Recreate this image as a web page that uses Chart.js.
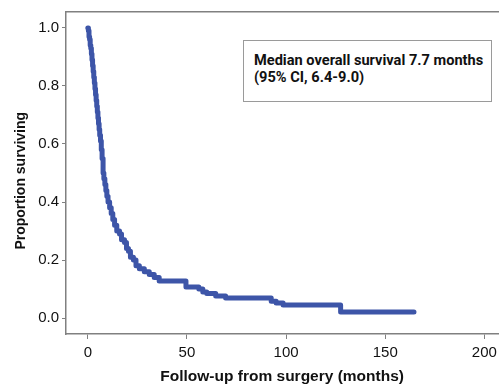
<!DOCTYPE html>
<html>
<head>
<meta charset="utf-8">
<script src="https://cdn.jsdelivr.net/npm/chart.js@4.4.1/dist/chart.umd.min.js"></script>
<style>
  html, body { margin: 0; padding: 0; background: #fff; overflow: hidden; }
  #wrap { position: relative; width: 502px; height: 384px; }
  #note {
    position: absolute; left: 243px; top: 40px; width: 247px; height: 60px;
    border: 1.5px solid #9a9a9a; background: #fff; box-sizing: content-box;
    font-family: Roboto, "Open Sans", sans-serif; font-weight: 700; font-size: 14.6px;
    line-height: 17px; color: #111; padding: 0;
  }
  #note div { position: absolute; left: 10px; white-space: nowrap; }
</style>
</head>
<body>
<div id="wrap">
  <canvas id="c" width="502" height="384"></canvas>
  <div id="note"><div style="top:11px">Median overall survival 7.7 months</div><div style="top:28px">(95% CI, 6.4-9.0)</div></div>
</div>
<script>
// Kaplan-Meier estimate (time in months, proportion surviving)
const months = [0, 0.3, 0.6, 0.9, 1.2, 1.5, 1.8, 2.1, 2.4, 2.7, 3.0, 3.3, 3.6, 3.9, 4.2, 4.5, 4.8, 5.1, 5.4, 5.7, 6.0, 6.4, 6.8, 7.2, 7.7, 8.1, 8.6, 9.1, 9.6, 10.2, 11.0, 11.8, 12.6, 13.5, 14.6, 16.0, 17.0, 18.5, 19.5, 20.5, 21.5, 23.0, 24.3, 26.0, 28.5, 31.0, 33.5, 36.0, 49.5, 56.0, 58.0, 60.0, 64.5, 69.5, 92.5, 95.0, 98.5, 127.5, 164.5];
const survival = [1.0, 0.99, 0.97, 0.96, 0.94, 0.93, 0.91, 0.89, 0.87, 0.85, 0.83, 0.81, 0.79, 0.77, 0.75, 0.73, 0.71, 0.69, 0.67, 0.65, 0.63, 0.61, 0.58, 0.55, 0.50, 0.48, 0.46, 0.44, 0.42, 0.40, 0.38, 0.36, 0.34, 0.32, 0.30, 0.29, 0.27, 0.26, 0.24, 0.23, 0.21, 0.20, 0.18, 0.17, 0.16, 0.15, 0.14, 0.128, 0.107, 0.10, 0.09, 0.085, 0.076, 0.069, 0.058, 0.052, 0.045, 0.021, 0.021];
const xTicks = [0, 50, 100, 150, 200];
const yTicks = [0.0, 0.2, 0.4, 0.6, 0.8, 1.0];
const xTitle = 'Follow-up from surgery (months)';
const yTitle = 'Proportion surviving';

const axisColor = '#808080';
const points = months.map((m, i) => ({ x: m, y: survival[i] }));

new Chart(document.getElementById('c'), {
  type: 'line',
  data: {
    datasets: [{
      data: points,
      stepped: true,
      borderColor: '#3d55a8',
      borderWidth: 5,
      borderCapStyle: 'round',
      borderJoinStyle: 'round',
      pointRadius: 0,
      fill: false
    }]
  },
  options: {
    responsive: false,
    animation: false,
    devicePixelRatio: 1,
    layout: { padding: 0 },
    plugins: { legend: { display: false }, tooltip: { enabled: false } },
    scales: {
      x: {
        type: 'linear', position: 'bottom', min: -11, max: 207,
        afterBuildTicks: s => { s.ticks = xTicks.map(v => ({ value: v })); },
        afterFit: s => { s.height = 50; },
        grid: { drawOnChartArea: false, drawTicks: true, tickLength: 5, color: axisColor, lineWidth: 1 },
        border: { display: true, color: axisColor, width: 1.5 },
        ticks: { color: '#111', font: { family: 'Liberation Sans', size: 15 }, padding: 5, maxRotation: 0 },
        title: { display: true, text: xTitle, color: '#111', font: { family: 'Liberation Sans', size: 15.5, weight: 'bold', lineHeight: 1 }, padding: { top: 0, bottom: 0 } }
      },
      xTop: {
        type: 'linear', position: 'top', min: -11, max: 207,
        afterFit: s => { s.height = 12; },
        grid: { display: false },
        border: { display: true, color: axisColor, width: 1.5 },
        ticks: { display: false }
      },
      y: {
        type: 'linear', position: 'left', min: -0.055, max: 1.055,
        afterBuildTicks: s => { s.ticks = yTicks.map(v => ({ value: v })); },
        afterFit: s => { s.width = 66; },
        grid: { drawOnChartArea: false, drawTicks: true, tickLength: 4, color: axisColor, lineWidth: 1 },
        border: { display: true, color: axisColor, width: 1.5 },
        ticks: { color: '#111', font: { family: 'Liberation Sans', size: 15 }, padding: 3, callback: v => Number(v).toFixed(1) },
        title: { display: true, text: yTitle + '\u00A0\u00A0\u00A0\u00A0', color: '#111', font: { family: 'Liberation Sans', size: 14, weight: 'bold', lineHeight: 1 }, padding: { top: 14, bottom: 0 } }
      }
    }
  }
});
</script>
</body>
</html>
